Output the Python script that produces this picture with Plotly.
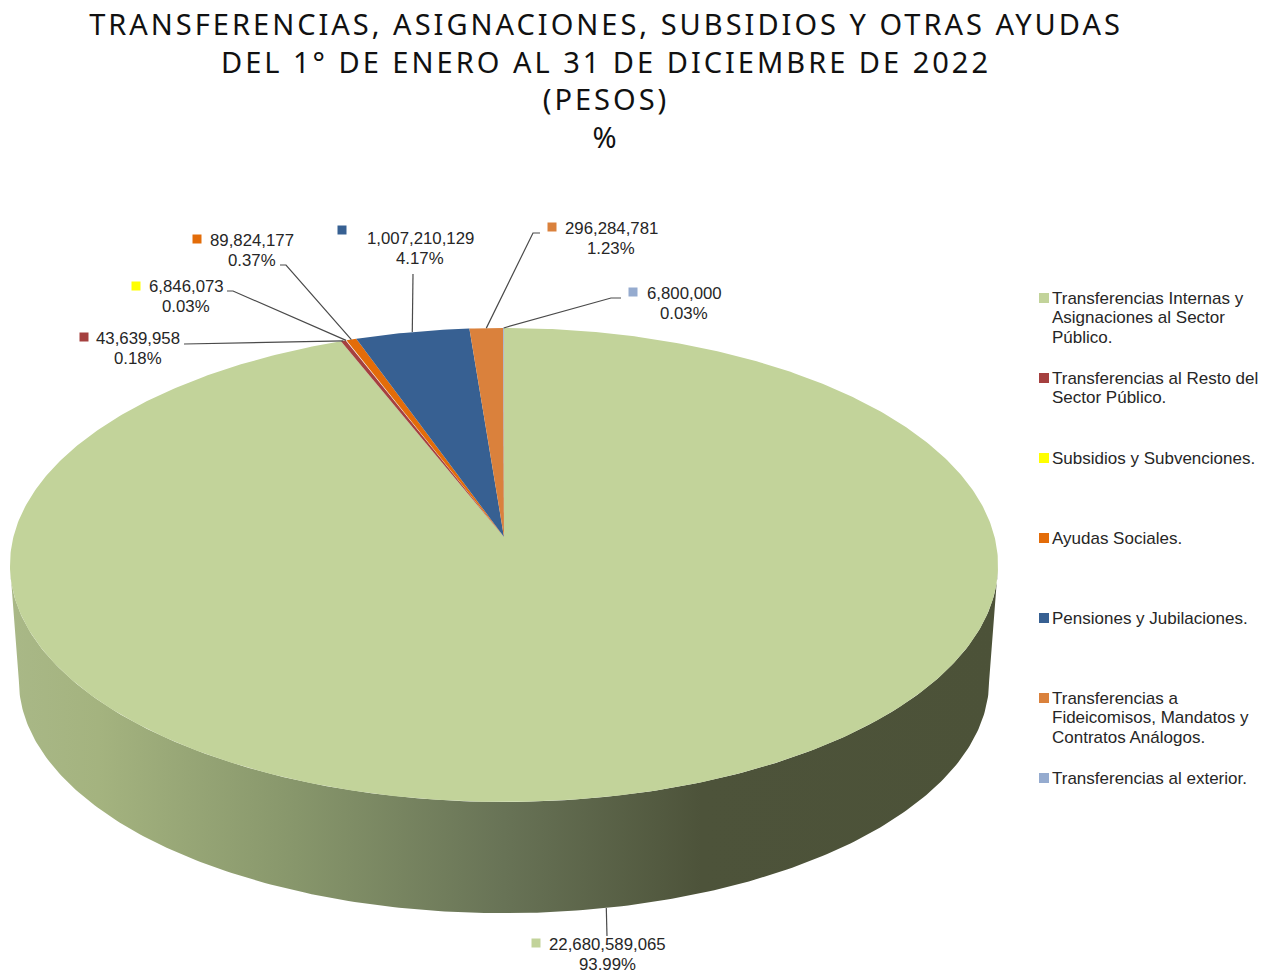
import math
import plotly.graph_objects as go

# ---------- data ----------
categories = [
    ["Transferencias Internas y", "Asignaciones al Sector", "Público."],
    ["Transferencias al Resto del", "Sector Público."],
    ["Subsidios y Subvenciones."],
    ["Ayudas Sociales."],
    ["Pensiones y Jubilaciones."],
    ["Transferencias a", "Fideicomisos, Mandatos y", "Contratos Análogos."],
    ["Transferencias al exterior."],
]
values = [22680589065, 43639958, 6846073, 89824177, 1007210129, 296284781, 6800000]
colors = ["#C2D39A", "#A5403F", "#FFFF00", "#E36C09", "#376092", "#DA813C", "#95ABCF"]
title_text = ("TRANSFERENCIAS, ASIGNACIONES, SUBSIDIOS Y OTRAS AYUDAS<br>"
              "DEL 1° DE ENERO AL 31 DE DICIEMBRE DE 2022<br>(PESOS)<br>%")

# ---------- layout geometry (pixels of the page) ----------
W, H = 1272, 973
CX, APEX_Y = 504, 537          # centre of the disc as seen in perspective
A, B, K = 490.6, 233.7, 0.118  # projection of the unit circle
DEPTH, LOWER = 116, 0.982      # thickness of the pie and shrink of its lower rim
label_pos = [(607, 944), (138, 338), (186, 286), (252, 240), (420, 238), (611, 228), (684, 293)]
key_pos = [(536, 943), (84, 337), (136, 286), (197, 239), (342, 230), (552, 227), (633, 292)]
elbow = [[(607, 936)], [(184, 344)], [(227, 291), (233, 291)], [(280, 265), (286, 265)],
         [(413, 274)], [(540, 233), (533, 233)], [(621, 298), (611, 298)]]
legend_x, legend_y0, legend_step, legend_pitch = 1044, 298, 80, 19.7


def rim(theta, s=1.0, dz=0.0):
    X, Y = math.sin(theta), math.cos(theta)
    d = 1 + K * Y
    return CX + s * A * X / d, APEX_Y + dz - s * B * Y / d


total = sum(values)
edges = [0.0]
for v in values:
    edges.append(edges[-1] + 2 * math.pi * v / total)

fig = go.Figure()

# side wall, with the light running from left to right
t0 = math.acos(-K)
t1 = 2 * math.pi - t0
n = 240
ts = [t0 + (t1 - t0) * i / n for i in range(n + 1)]
top = [rim(t) for t in ts]
bot = [rim(t, LOWER, DEPTH) for t in reversed(ts)]
poly = top + bot + top[:1]
grad = [[0, "#A9B887"], [0.09, "#A4B37F"], [0.29, "#87966B"], [0.50, "#687356"],
        [0.70, "#4D533A"], [1, "#4C5238"]]
fig.add_trace(go.Scatter(
    x=[p[0] for p in poly], y=[p[1] for p in poly], mode="lines",
    fill="toself", line=dict(width=0), hoverinfo="skip", showlegend=False,
    fillcolor="#6B7655",
    fillgradient=dict(type="horizontal", colorscale=grad, start=10, stop=998),
))

# top faces
for i, (name, col) in enumerate(zip(categories, colors)):
    a, b = edges[i], edges[i + 1]
    m = max(2, int((b - a) / 0.01))
    pts = [(CX, APEX_Y)] + [rim(a + (b - a) * j / m) for j in range(m + 1)] + [(CX, APEX_Y)]
    fig.add_trace(go.Scatter(
        x=[p[0] for p in pts], y=[p[1] for p in pts], mode="lines", fill="toself",
        fillcolor=col, line=dict(width=0), name=" ".join(name),
        hoverinfo="name", showlegend=False,
    ))

# leader lines
for i in range(len(values)):
    mid = (edges[i] + edges[i + 1]) / 2
    end = rim(mid, LOWER, DEPTH) if i == 0 else rim(mid)
    pts = elbow[i] + [end]
    fig.add_trace(go.Scatter(
        x=[p[0] for p in pts], y=[p[1] for p in pts], mode="lines",
        line=dict(color="#4A4A4A", width=1.2), hoverinfo="skip", showlegend=False,
    ))

# keys of the data labels
fig.add_trace(go.Scatter(
    x=[p[0] for p in key_pos], y=[p[1] for p in key_pos], mode="markers",
    marker=dict(symbol="square", size=9, color=colors, line=dict(width=0)),
    hoverinfo="skip", showlegend=False,
))
# keys of the legend
fig.add_trace(go.Scatter(
    x=[legend_x] * len(values), y=[legend_y0 + legend_step * i for i in range(len(values))],
    mode="markers", marker=dict(symbol="square", size=10, color=colors, line=dict(width=0)),
    hoverinfo="skip", showlegend=False,
))

annotations = []
TXT = "#262626"
for v, (x, y) in zip(values, label_pos):
    for j, line in enumerate([f"{v:,}", f"{v / total * 100:.2f}%"]):
        annotations.append(dict(
            x=x, y=y + 20 * j, xref="x", yref="y", showarrow=False,
            xanchor="center", yanchor="middle", align="center", text=line,
            font=dict(family="Liberation Sans", size=16.8, color=TXT),
        ))
for i, name in enumerate(categories):
    for j, line in enumerate(name):
        annotations.append(dict(
            x=legend_x + 8, y=legend_y0 + legend_step * i + legend_pitch * j,
            xref="x", yref="y", showarrow=False, xanchor="left", yanchor="middle",
            align="left", text=line, borderpad=0, borderwidth=0,
            font=dict(family="Liberation Sans", size=17, color=TXT),
        ))

fig.update_layout(
    width=W, height=H, autosize=False,
    margin=dict(l=0, r=0, t=0, b=0),
    paper_bgcolor="white", plot_bgcolor="white",
    xaxis=dict(range=[0, W], visible=False, fixedrange=True),
    yaxis=dict(range=[H, 0], visible=False, fixedrange=True),
    title=dict(text=title_text, x=606 / W, xanchor="center", y=1 - 35 / H, yanchor="top",
               font=dict(family="Noto Sans", size=29, color="#111111")),
    annotations=annotations,
)

post = """
document.body.style.margin='0';
function sp(){document.querySelectorAll('.gtitle').forEach(function(t){t.style.letterSpacing='3px';});}
sp();setTimeout(sp,50);setTimeout(sp,300);
"""
fig.write_html("out.html", post_script=post, config={"displayModeBar": False})
